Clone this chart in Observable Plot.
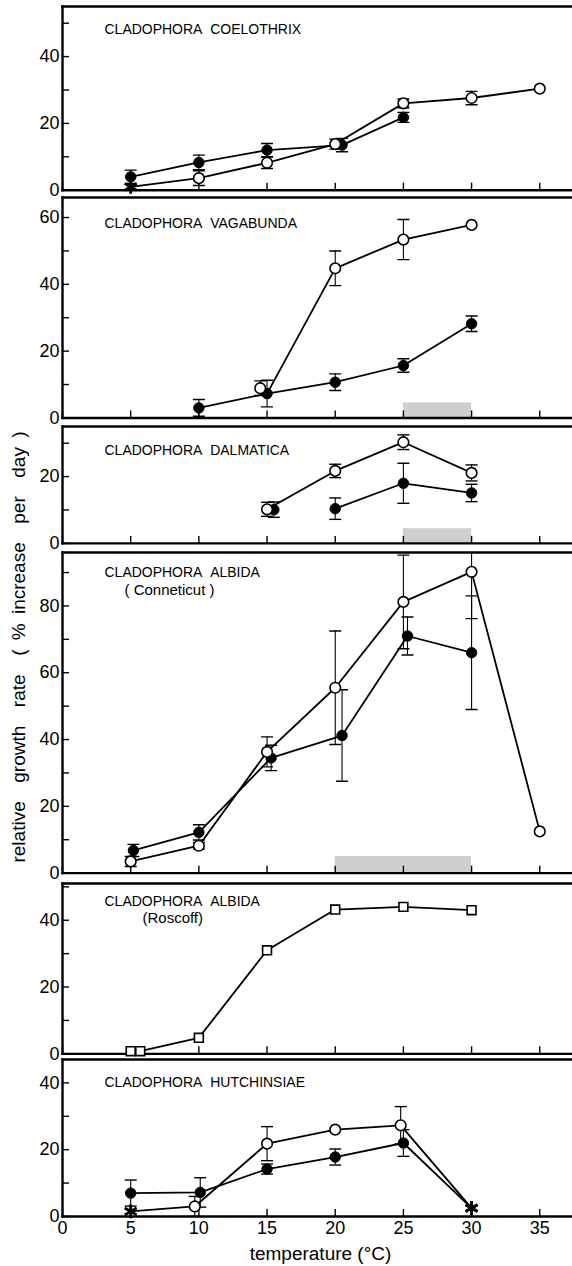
<!DOCTYPE html>
<html><head><meta charset="utf-8">
<script src="https://cdn.jsdelivr.net/npm/d3@7"></script>
<script src="https://cdn.jsdelivr.net/npm/@observablehq/plot@0.6"></script>
<style>
html,body{margin:0;padding:0;background:#fff;}
#wrap{position:relative;width:572px;height:1266px;overflow:hidden;font-family:"Liberation Sans",Arial,sans-serif;color:#000;}
.panel{position:absolute;left:0;}
#ylab{position:absolute;left:18px;top:647px;transform:translate(-50%,-50%) rotate(-90deg);white-space:pre;font-size:19px;word-spacing:4px;line-height:1;}
</style></head><body><div id="wrap"><div id="ylab"></div></div>
<script>
// ---------------- data ----------------
const xTicks = [0, 5, 10, 15, 20, 25, 30, 35];
const yTicksAll = [0, 10, 20, 30, 40, 50, 60, 70, 80, 90];
const xLabel = "temperature (\u00B0C)";
const yLabel = "relative  growth  rate  ( % increase  per  day )";
const titles = ["CLADOPHORA\u00A0\u00A0COELOTHRIX", "CLADOPHORA\u00A0\u00A0VAGABUNDA", "CLADOPHORA\u00A0\u00A0DALMATICA",
                "CLADOPHORA\u00A0\u00A0ALBIDA", "CLADOPHORA\u00A0\u00A0ALBIDA", "CLADOPHORA\u00A0\u00A0HUTCHINSIAE"];
const subtitles = [null, null, null, "( Conneticut )", "(Roscoff)", null];
const yMax = [55, 66, 35, 96, 51, 47];
const shadeStart = [null, 25, 25, 20, null, null];
const shadeEnd = [null, 30, 30, 30, null, null];
const shadeTop = [null, 4.5, 4.4, 5, null, null];

// Panel 1: C. coelothrix
const p1FilledT = [5, 10, 15, 20.5, 25];
const p1FilledV = [4, 8.3, 12, 13.5, 21.8];
const p1FilledE = [2, 2.2, 2, 2, 1.5];
const p1OpenT = [5, 10, 15, 20, 25, 30, 35];
const p1OpenV = [1, 3.6, 8.2, 13.8, 26, 27.6, 30.4];
const p1OpenE = [0, 2.2, 1.7, 1.5, 1.3, 2, 0];
const p1OpenMark = ["star", "open", "open", "open", "open", "open", "open"];

// Panel 2: C. vagabunda
const p2FilledT = [10, 15, 20, 25, 30];
const p2FilledV = [3, 7.3, 10.7, 15.7, 28.2];
const p2FilledE = [2.5, 4, 2.5, 2, 2.3];
const p2OpenT = [14.5, 15, 20, 25, 30];
const p2OpenV = [8.9, 7.3, 44.8, 53.4, 57.8];
const p2OpenE = [2.2, 0, 5.2, 6, 0];
const p2OpenMark = ["open", "none", "open", "open", "open"];
const p2OpenLinked = [false, true, true, true, true];

// Panel 3: C. dalmatica
const p3FilledT = [15.5, 20, 25, 30];
const p3FilledV = [10.1, 10.4, 18, 15.1];
const p3FilledE = [2.3, 3.2, 6, 2.6];
const p3FilledLinked = [false, true, true, true];
const p3OpenT = [15, 20, 25, 30];
const p3OpenV = [10.2, 21.7, 30.3, 21.1];
const p3OpenE = [2.1, 2, 2.2, 2.4];

// Panel 4: C. albida (Connecticut)
const p4FilledT = [5.2, 10, 15.3, 20.5, 25.3, 30];
const p4FilledV = [6.8, 12.2, 34.5, 41.2, 71, 66];
const p4FilledE = [1.8, 2.3, 3.8, 13.7, 5.7, 17];
const p4OpenT = [5, 10, 15, 20, 25, 30, 35];
const p4OpenV = [3.5, 8.2, 36.3, 55.5, 81.2, 90.2, 12.5];
const p4OpenE = [1.5, 1, 4.5, 17, 14, 14, 0];

// Panel 5: C. albida (Roscoff)
const p5SquareT = [5, 5.7, 10, 15, 20, 25, 30];
const p5SquareV = [0.8, 0.8, 4.8, 31, 43.2, 44, 43];

// Panel 6: C. hutchinsiae
const p6FilledT = [5, 10.1, 15, 20, 25, 30];
const p6FilledV = [7, 7.2, 14.2, 17.8, 22, 2.5];
const p6FilledE = [3.9, 4.4, 1.5, 2.4, 4, 0];
const p6FilledMark = ["filled", "filled", "filled", "filled", "filled", "star"];
const p6OpenT = [5, 9.7, 15, 20, 24.8, 30];
const p6OpenV = [1.5, 3, 21.8, 26, 27.3, 2.5];
const p6OpenE = [0, 3, 5.1, 0, 5.6, 0];
const p6OpenMark = ["star", "open", "open", "open", "open", "star"];

// ---------------- layout ----------------
const PX = 3.34;          // pixels per unit of growth rate
const XMAX = 37.4;
const panelTop = [6, 197, 426, 552, 883, 1059];
const titleDy = [23.5, 26, 24, 20.5, 18, 23.5];
const subDy = [0, 0, 0, 37.5, 35, 0];
const subDx = [0, 0, 0, 62, 80, 0];
const FONT = "'Liberation Sans',Arial,sans-serif";

function series(T, V, E, marks, def, linked) {
  return T.map((t, i) => ({t, v: V[i], e: E ? E[i] : 0, mark: marks ? marks[i] : def, linked: linked ? linked[i] : true}));
}

const panels = [
  [series(p1FilledT, p1FilledV, p1FilledE, null, "filled"), series(p1OpenT, p1OpenV, p1OpenE, p1OpenMark, "open")],
  [series(p2FilledT, p2FilledV, p2FilledE, null, "filled"), series(p2OpenT, p2OpenV, p2OpenE, p2OpenMark, "open", p2OpenLinked)],
  [series(p3FilledT, p3FilledV, p3FilledE, null, "filled", p3FilledLinked), series(p3OpenT, p3OpenV, p3OpenE, null, "open")],
  [series(p4FilledT, p4FilledV, p4FilledE, null, "filled"), series(p4OpenT, p4OpenV, p4OpenE, null, "open")],
  [series(p5SquareT, p5SquareV, null, null, "square")],
  [series(p6FilledT, p6FilledV, p6FilledE, p6FilledMark, "filled"), series(p6OpenT, p6OpenV, p6OpenE, p6OpenMark, "open")]
];

const capSymbol = {draw(ctx, size) { const w = Math.sqrt(size / Math.PI); ctx.moveTo(-w, 0); ctx.lineTo(w, 0); }};

const wrap = document.getElementById("wrap");
document.getElementById("ylab").textContent = yLabel;

panels.forEach((ser, i) => {
  const last = i === panels.length - 1;
  const mt = 4, mb = last ? 52 : 4;
  const ym = yMax[i];
  const pts = ser.flat();
  const errPts = pts.filter(d => d.e > 0);
  const caps = errPts.flatMap(d => [{t: d.t, y: d.v - d.e}, {t: d.t, y: d.v + d.e}]);
  const marks = [];
  if (shadeStart[i] != null) {
    marks.push(Plot.rect([{x1: shadeStart[i], x2: shadeEnd[i], y1: 0, y2: shadeTop[i]}],
      {x1: "x1", x2: "x2", y1: "y1", y2: "y2", fill: "#cfcfcf"}));
  }
  marks.push(
    Plot.frame({anchor: "left", strokeWidth: 2.4}),
    Plot.frame({anchor: "bottom", strokeWidth: 2.4}),
    Plot.frame({anchor: "top", strokeWidth: 2.4}),
    Plot.axisY(yTicksAll.filter(t => t <= ym), {anchor: "left", tickSize: -7, tickPadding: 10, strokeWidth: 1.4,
      tickFormat: d => d % 20 === 0 ? String(d) : "", fontSize: 18, label: null}),
    Plot.axisX(xTicks, {anchor: "bottom", tickSize: -7, tickPadding: 12, strokeWidth: 1.4,
      tickFormat: last ? (d => String(d)) : (() => ""), fontSize: 18, label: null}),
    Plot.ruleX(errPts, {x: "t", y1: d => d.v - d.e, y2: d => d.v + d.e, stroke: "black", strokeWidth: 1.1, clip: true}),
    Plot.dot(caps, {x: "t", y: "y", symbol: capSymbol, r: 6, stroke: "black", fill: "none", strokeWidth: 1.4, clip: true})
  );
  ser.forEach(s => {
    marks.push(Plot.line(s.filter(d => d.linked), {x: "t", y: "v", stroke: "black", strokeWidth: 1.8}));
  });
  marks.push(
    Plot.dot(pts.filter(d => d.mark === "filled"), {x: "t", y: "v", r: 5.2, fill: "black", stroke: "black", strokeWidth: 1}),
    Plot.dot(pts.filter(d => d.mark === "open"), {x: "t", y: "v", r: 5.3, fill: "white", stroke: "black", strokeWidth: 1.6}),
    Plot.dot(pts.filter(d => d.mark === "square"), {x: "t", y: "v", symbol: "square", r: 5, fill: "white", stroke: "black", strokeWidth: 1.6}),
    Plot.dot(pts.filter(d => d.mark === "star"), {x: "t", y: "v", symbol: "asterisk", r: 6.5, fill: "none", stroke: "black", strokeWidth: 2.8}),
    Plot.text([titles[i]], {frameAnchor: "top-left", dx: 42, dy: titleDy[i], textAnchor: "start", lineAnchor: "middle", fontSize: 14})
  );
  if (subtitles[i]) {
    marks.push(Plot.text([subtitles[i]], {frameAnchor: "top-left", dx: subDx[i], dy: subDy[i], textAnchor: "start", lineAnchor: "middle", fontSize: 15}));
  }
  if (last) {
    marks.push(Plot.text([xLabel], {frameAnchor: "bottom", dx: 3, dy: 37, lineAnchor: "middle", fontSize: 19}));
  }
  const chart = Plot.plot({
    width: 572, height: mt + ym * PX + mb,
    marginLeft: 62, marginRight: 0, marginTop: mt, marginBottom: mb,
    x: {domain: [0, XMAX]},
    y: {domain: [0, ym]},
    style: `background:none;overflow:visible;font-family:${FONT};font-size:18px;color:#000;`,
    marks
  });
  const div = document.createElement("div");
  div.className = "panel";
  div.style.top = (panelTop[i] - mt) + "px";
  div.appendChild(chart);
  wrap.appendChild(div);
});
</script>
</body></html>
